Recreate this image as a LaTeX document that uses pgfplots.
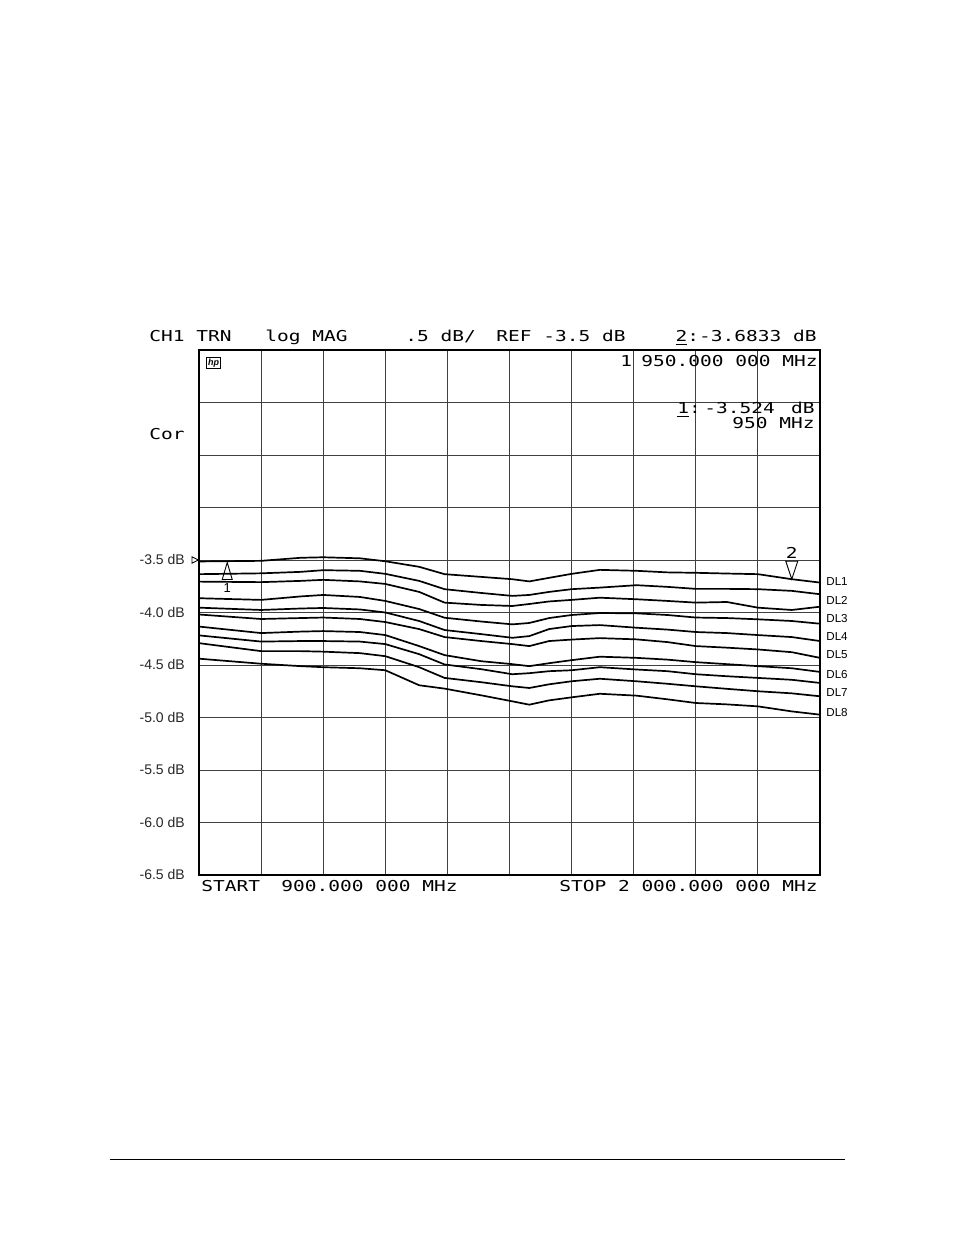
\documentclass[border=0pt]{standalone}
\usepackage{pgfplots}
\pgfplotsset{compat=1.18}
\usepackage{pgfplotstable}
\usepackage{fontspec}
\setmainfont{Liberation Sans}
\newfontfamily\plotter[FakeStretch=1.3]{DejaVu Sans Mono}
\newcommand{\hdr}{\plotter\fontsize{7.5}{9}\selectfont}

\pgfplotstableread{
x     c1     c2     c3     c4     c5     c6     c7     c8     c9     c10
900  -3.514 -3.635 -3.706 -3.864 -3.954 -4.019 -4.134 -4.218 -4.292 -4.440
1010 -3.508 -3.627 -3.711 -3.880 -3.976 -4.062 -4.196 -4.277 -4.368 -4.488
1080 -3.479 -3.613 -3.699 -3.847 -3.962 -4.053 -4.182 -4.272 -4.368 -4.511
1120 -3.474 -3.597 -3.689 -3.833 -3.957 -4.048 -4.177 -4.272 -4.373 -4.521
1185 -3.484 -3.603 -3.704 -3.852 -3.971 -4.062 -4.186 -4.277 -4.387 -4.531
1230 -3.512 -3.632 -3.728 -3.890 -4.000 -4.091 -4.215 -4.301 -4.416 -4.550
1290 -3.565 -3.699 -3.804 -3.967 -4.081 -4.158 -4.320 -4.397 -4.521 -4.693
1335 -3.635 -3.778 -3.906 -4.050 -4.167 -4.234 -4.406 -4.495 -4.623 -4.725
1400 -3.661 -3.814 -3.928 -4.086 -4.206 -4.272 -4.464 -4.540 -4.664 -4.789
1455 -3.683 -3.842 -3.938 -4.113 -4.241 -4.301 -4.492 -4.588 -4.703 -4.846
1485 -3.704 -3.833 -3.919 -4.100 -4.225 -4.320 -4.511 -4.578 -4.719 -4.878
1520 -3.670 -3.804 -3.895 -4.053 -4.158 -4.272 -4.483 -4.559 -4.684 -4.837
1560 -3.632 -3.778 -3.880 -4.024 -4.129 -4.258 -4.454 -4.550 -4.655 -4.808
1610 -3.594 -3.763 -3.859 -4.005 -4.120 -4.244 -4.421 -4.521 -4.631 -4.774
1675 -3.603 -3.740 -3.874 -4.008 -4.145 -4.256 -4.432 -4.543 -4.655 -4.792
1730 -3.618 -3.756 -3.890 -4.024 -4.163 -4.282 -4.449 -4.559 -4.679 -4.827
1780 -3.622 -3.775 -3.906 -4.048 -4.186 -4.320 -4.473 -4.588 -4.703 -4.862
1835 -3.629 -3.775 -3.900 -4.053 -4.196 -4.335 -4.492 -4.607 -4.727 -4.875
1890 -3.635 -3.778 -3.954 -4.065 -4.215 -4.352 -4.511 -4.623 -4.750 -4.894
1950 -3.683 -3.794 -3.976 -4.081 -4.234 -4.378 -4.531 -4.641 -4.770 -4.942
2000 -3.715 -3.826 -3.945 -4.107 -4.272 -4.432 -4.566 -4.671 -4.798 -4.973
}\traces

\begin{document}
\begin{tikzpicture}
\path (0,0) rectangle (477pt,617.5pt);
\draw[line width=0.5pt] (55pt,37.5pt) -- (422.5pt,37.5pt);
\begin{axis}[
  at={(99.5pt,180pt)}, anchor=south west, scale only axis,
  width=310.5pt, height=262.5pt,
  xmin=900, xmax=2000, ymin=-6.5, ymax=-1.5,
  xtick={900,1010,1120,1230,1340,1450,1560,1670,1780,1890,2000},
  ytick={-6.5,-6,-5.5,-5,-4.5,-4,-3.5,-3,-2.5,-2,-1.5},
  xticklabels={},
  yticklabels={-6.5 dB,-6.0 dB,-5.5 dB,-5.0 dB,-4.5 dB,-4.0 dB,-3.5 dB,,,,},
  yticklabel style={font=\fontsize{7}{8}\selectfont, xshift=-3.6pt, text=black!85},
  major tick length=0pt,
  grid=major, major grid style={black!75, line width=0.45pt},
  axis line style={black, line width=0.6pt},
  clip=false,
]
\pgfplotsinvokeforeach{1,...,10}{
  \addplot[black, line width=0.85pt, no marks] table[x=x, y=c#1]{\traces};
}
% reference marker
\draw[line width=0.45pt] ([xshift=-3.5pt,yshift=1.6pt]axis cs:900,-3.5) -- ([xshift=-0.3pt]axis cs:900,-3.5) -- ([xshift=-3.5pt,yshift=-1.6pt]axis cs:900,-3.5) -- cycle;
% marker 1
\draw[line width=0.45pt] ([xshift=-2.5pt,yshift=-8.5pt]axis cs:950,-3.524) -- (axis cs:950,-3.524) -- ([xshift=2.5pt,yshift=-8.5pt]axis cs:950,-3.524) -- cycle;
\node[font=\fontsize{6.5}{7}\selectfont] at ([yshift=-13pt]axis cs:950,-3.524) {1};
% marker 2
\draw[line width=0.45pt] ([xshift=-3pt,yshift=9pt]axis cs:1950,-3.683) -- (axis cs:1950,-3.683) -- ([xshift=3pt,yshift=9pt]axis cs:1950,-3.683) -- cycle;
\node[font=\hdr] at ([yshift=13pt]axis cs:1950,-3.683) {2};
\end{axis}
% header
\node[anchor=base west, font=\hdr, inner sep=0pt] at (74.5pt,446.5pt) {CH1};
\node[anchor=base west, font=\hdr, inner sep=0pt] at (98pt,446.5pt) {TRN};
\node[anchor=base west, font=\hdr, inner sep=0pt] at (132.5pt,446.5pt) {log MAG};
\node[anchor=base west, font=\hdr, inner sep=0pt] at (202.5pt,446.5pt) {.5 dB/};
\node[anchor=base west, font=\hdr, inner sep=0pt] at (248pt,446.5pt) {REF -3.5 dB};
\node[anchor=base east, font=\hdr, inner sep=0pt] at (408.5pt,446.5pt) {\underline{2}:-3.6833 dB};
\node[anchor=base west, font=\hdr, inner sep=0pt] at (74.5pt,397.5pt) {Cor};
% hp logo
\node[draw, line width=0.4pt, inner sep=0.6pt, font=\fontsize{4.5}{5}\selectfont\itshape\bfseries] at (106.75pt,436pt) {hp};
% marker readouts
\node[anchor=base west, font=\hdr, inner sep=0pt] at (310pt,434pt) {1};
\node[anchor=base west, font=\hdr, inner sep=0pt] at (320.5pt,434pt) {950.000 000 MHz};
\node[anchor=base west, font=\hdr, inner sep=0pt] at (338.5pt,410.5pt) {\underline{1}:};
\node[anchor=base west, font=\hdr, inner sep=0pt] at (352pt,410.5pt) {-3.524};
\node[anchor=base east, font=\hdr, inner sep=0pt] at (407.5pt,410.5pt) {dB};
\node[anchor=base east, font=\hdr, inner sep=0pt] at (407.5pt,403pt) {950 MHz};
% start / stop
\node[anchor=base west, font=\hdr, inner sep=0pt] at (100.5pt,171.5pt) {START};
\node[anchor=base west, font=\hdr, inner sep=0pt] at (140.5pt,171.5pt) {900.000 000 MHz};
\node[anchor=base east, font=\hdr, inner sep=0pt] at (409pt,171.5pt) {STOP 2 000.000 000 MHz};
% DL labels
\foreach \n/\yy in {1/326.5,2/317.5,3/308,4/299,5/290,6/280,7/271,8/261}{
  \node[anchor=west, inner sep=0pt, font=\fontsize{5.8}{6}\selectfont] at (413pt,\yy pt) {DL\n};
}
\end{tikzpicture}
\end{document}
